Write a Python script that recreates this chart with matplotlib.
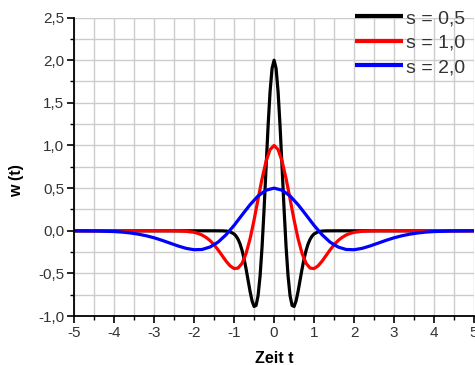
import numpy as np
import matplotlib
matplotlib.use("Agg")
import matplotlib.pyplot as plt
from matplotlib.ticker import MultipleLocator, FuncFormatter

plt.rcParams['font.family'] = ['Liberation Sans', 'DejaVu Sans']

# right half only (the curves are symmetric about t = 0)
t_black = [0, 0.05, 0.1, 0.15, 0.2, 0.25, 0.3, 0.35, 0.4, 0.45, 0.5, 0.55, 0.6,
           0.65, 0.7, 0.75, 0.8, 0.85, 0.9, 0.95, 1.0, 1.1, 1.2, 1.3, 1.5, 5.0]
w_black = [2.0, 1.904, 1.632, 1.225, 0.743, 0.253, -0.186, -0.531, -0.761, -0.875,
           -0.887, -0.823, -0.711, -0.579, -0.447, -0.328, -0.231, -0.155, -0.100,
           -0.062, -0.037, -0.012, -0.003, -0.001, 0.0, 0.0]

t_red = [0, 0.1, 0.2, 0.3, 0.4, 0.5, 0.6, 0.7, 0.8, 0.9, 1.0, 1.1, 1.2, 1.3, 1.4,
         1.5, 1.6, 1.7, 1.8, 1.9, 2.0, 2.2, 2.4, 2.6, 3.0, 5.0]
w_red = [1.0, 0.952, 0.816, 0.612, 0.372, 0.127, -0.093, -0.266, -0.381, -0.437,
         -0.443, -0.411, -0.356, -0.290, -0.224, -0.164, -0.115, -0.078, -0.050,
         -0.031, -0.018, -0.006, -0.002, 0.0, 0.0, 0.0]

t_blue = [0, 0.2, 0.4, 0.6, 0.8, 1.0, 1.2, 1.4, 1.6, 1.8, 2.0, 2.2, 2.4, 2.6, 2.8,
          3.0, 3.2, 3.4, 3.6, 3.8, 4.0, 4.4, 4.8, 5.0]
w_blue = [0.5, 0.476, 0.408, 0.306, 0.186, 0.063, -0.046, -0.133, -0.190, -0.219,
          -0.222, -0.206, -0.178, -0.145, -0.112, -0.082, -0.058, -0.039, -0.025,
          -0.015, -0.009, -0.003, -0.001, 0.0]

labels = ["s = 0,5", "s = 1,0", "s = 2,0"]
colors = ["black", "#ff0000", "#0000ff"]


def mirror(t, w):
    t = np.asarray(t)
    w = np.asarray(w)
    return np.concatenate([-t[::-1], t[1:]]), np.concatenate([w[::-1], w[1:]])


fig = plt.figure(figsize=(4.75, 3.65), dpi=100)
ax = fig.add_axes([0.156, 0.134, 0.842, 0.818])

for (t, w), lab, col in zip([(t_black, w_black), (t_red, w_red), (t_blue, w_blue)],
                            labels, colors):
    tt, ww = mirror(t, w)
    ax.plot(tt, ww, color=col, lw=2.3, label=lab, solid_capstyle='butt')

ax.set_xlim(-5, 5)
ax.set_ylim(-1, 2.5)

ax.xaxis.set_major_locator(MultipleLocator(1))
ax.xaxis.set_minor_locator(MultipleLocator(0.5))
ax.yaxis.set_major_locator(MultipleLocator(0.5))
ax.yaxis.set_minor_locator(MultipleLocator(0.25))
ax.xaxis.set_major_formatter(FuncFormatter(lambda v, p: "%d" % round(v)))
ax.yaxis.set_major_formatter(FuncFormatter(lambda v, p: ("%.1f" % v).replace(".", ",")))

ax.grid(True, which='both', color='#cccccc', lw=1.0)
ax.set_axisbelow(True)

for side in ['top', 'right']:
    ax.spines[side].set_visible(False)
for side in ['left', 'bottom']:
    ax.spines[side].set_linewidth(1.3)

ax.tick_params(which='major', length=5, width=1.2, labelsize=11, colors='black',
               labelcolor='#333333', pad=2)
ax.tick_params(which='minor', length=3, width=1.0, colors='black')

ax.set_xlabel("Zeit t", fontsize=11.5, fontweight='bold', labelpad=8)
fig.text(17 / 475, 1 - 181 / 365, "w (t)", rotation=90, fontsize=11.5,
         fontweight='bold', ha='center', va='center')

leg = ax.legend(loc='upper right', bbox_to_anchor=(0.978, 1.027), frameon=False,
                fontsize=14, handlelength=2.5, handletextpad=0.15,
                labelspacing=0.36, borderpad=0.0, borderaxespad=0.0)
for line in leg.get_lines():
    line.set_linewidth(3)
for txt in leg.get_texts():
    txt.set_color('#333333')

fig.savefig("out.png", dpi=100)
